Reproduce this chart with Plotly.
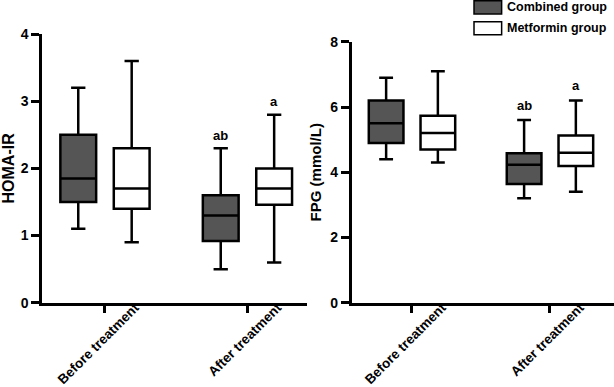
import plotly.graph_objects as go

categories = ["Before treatment", "After treatment"]
groups = ["Combined group", "Metformin group"]
fills = ["#555555", "#ffffff"]

# HOMA-IR  (per group: [before, after])
homa_min = {"Combined group": [1.1, 0.5], "Metformin group": [0.9, 0.6]}
homa_q1 = {"Combined group": [1.5, 0.92], "Metformin group": [1.4, 1.46]}
homa_med = {"Combined group": [1.85, 1.3], "Metformin group": [1.7, 1.7]}
homa_q3 = {"Combined group": [2.5, 1.6], "Metformin group": [2.3, 2.0]}
homa_max = {"Combined group": [3.2, 2.3], "Metformin group": [3.6, 2.8]}

# FPG (mmol/L)
fpg_min = {"Combined group": [4.4, 3.2], "Metformin group": [4.3, 3.4]}
fpg_q1 = {"Combined group": [4.9, 3.64], "Metformin group": [4.7, 4.19]}
fpg_med = {"Combined group": [5.5, 4.23], "Metformin group": [5.2, 4.6]}
fpg_q3 = {"Combined group": [6.2, 4.58], "Metformin group": [5.73, 5.13]}
fpg_max = {"Combined group": [6.9, 5.6], "Metformin group": [7.1, 6.2]}

# significance labels: (group, category, text)
sig_labels = [("Combined group", "After treatment", "ab"),
              ("Metformin group", "After treatment", "a")]

BOXGAP = 0.25
BOXGROUPGAP = 0.33
FONT = "Liberation Sans, Arial, sans-serif"

fig = go.Figure()

panels = [
    ("x", "y", homa_min, homa_q1, homa_med, homa_q3, homa_max),
    ("x2", "y2", fpg_min, fpg_q1, fpg_med, fpg_q3, fpg_max),
]
for xa, ya, mn, q1, md, q3, mx in panels:
    for g, fc in zip(groups, fills):
        fig.add_trace(go.Box(
            x=categories, q1=q1[g], median=md[g], q3=q3[g],
            lowerfence=mn[g], upperfence=mx[g],
            name=g, offsetgroup=g, fillcolor=fc,
            line=dict(color="black", width=2.5),
            whiskerwidth=0.4, boxpoints=False, showlegend=False,
            xaxis=xa, yaxis=ya, hoverinfo="skip",
        ))

offset = (1 - BOXGAP) / 4
for (xa, ya, mx, ysh) in [("x", "y", homa_max, 13), ("x2", "y2", fpg_max, 15)]:
    for g, cat, txt in sig_labels:
        ci = categories.index(cat)
        gi = groups.index(g)
        fig.add_annotation(
            x=ci + (offset if gi == 1 else -offset), y=mx[g][ci],
            xref=xa, yref=ya, text=txt, showarrow=False,
            yanchor="middle", yshift=ysh,
            font=dict(family=FONT, size=13, color="black", weight="bold"),
        )

axis_common = dict(
    showline=True, linecolor="black", linewidth=2.5,
    ticks="outside", tickcolor="black", tickwidth=2.5,
    showgrid=False, zeroline=False, automargin=False,
    tickfont=dict(family=FONT, size=14, color="black", weight="bold"),
)
xcommon = dict(axis_common, ticklen=8, tickangle=-45, type="category",
               ticklabelshift=30, ticklabelstandoff=-19,
               tickfont=dict(family=FONT, size=13.5, color="black", weight="bold"))

fig.update_layout(
    width=614, height=387,
    margin=dict(l=0, r=0, t=0, b=0),
    paper_bgcolor="white", plot_bgcolor="white",
    boxmode="group", boxgap=BOXGAP, boxgroupgap=BOXGROUPGAP,
    xaxis=dict(xcommon, domain=[0.0684, 0.5], range=[-0.442, 1.418], anchor="y"),
    yaxis=dict(axis_common, domain=[0.2178, 0.912], range=[0, 4], dtick=1,
               ticklen=8, anchor="x",
               title=dict(text="HOMA-IR", standoff=6,
                          font=dict(family=FONT, size=16, color="black", weight="bold"))),
    xaxis2=dict(xcommon, domain=[0.5728, 1.0], range=[-0.437, 1.464], anchor="y2"),
    yaxis2=dict(axis_common, domain=[0.2178, 0.892], range=[0, 8], dtick=2,
                ticklen=8, anchor="x2",
                title=dict(text="FPG (mmol/L)", standoff=6,
                           font=dict(family=FONT, size=15, color="black", weight="bold"))),
)

# legend (swatches + labels) in the top-right corner
leg_y = [0.981, 0.927]
for g, fc, yc in zip(groups, fills, leg_y):
    fig.add_shape(type="rect", xref="paper", yref="paper",
                  x0=0.772, x1=0.817, y0=yc - 0.017, y1=yc + 0.017,
                  fillcolor=fc, line=dict(color="black", width=1.5))
    fig.add_annotation(xref="paper", yref="paper", x=0.822, y=yc,
                       xanchor="left", yanchor="middle", text=g, showarrow=False,
                       font=dict(family=FONT, size=12.5, color="black", weight="bold"))

fig.write_html("out.html", config={"displayModeBar": False},
               post_script="document.body.style.margin='0px';")
